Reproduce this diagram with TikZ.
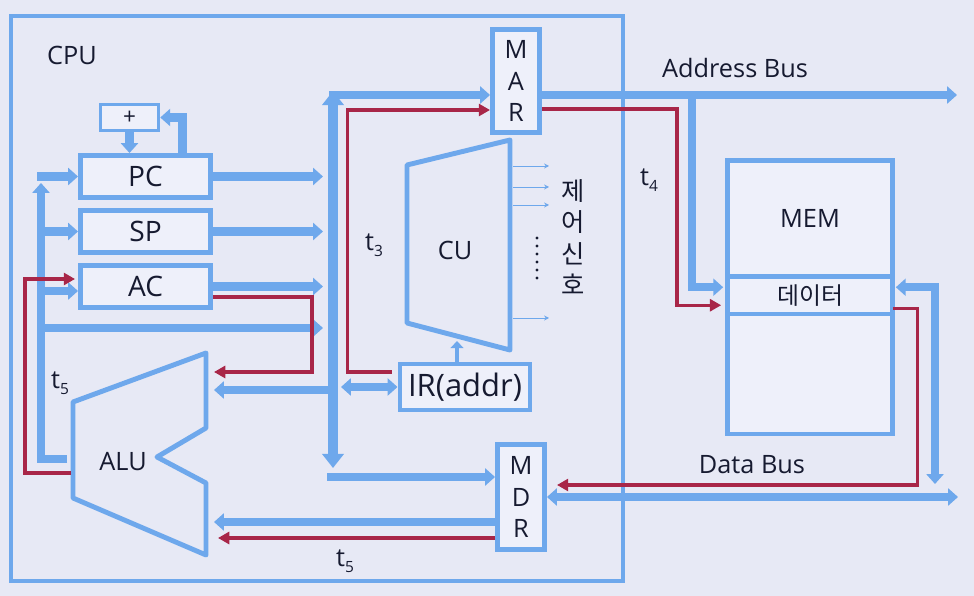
\documentclass[tikz,border=0pt]{standalone}
\usepackage{fontspec}
\setmainfont{Open Sans}
\newfontfamily\korfont{Noto Sans CJK KR}
\usepackage{tikz}
\usetikzlibrary{arrows.meta, calc}
\usepackage{xcolor}
\definecolor{busblue}{RGB}{110, 168, 236}
\definecolor{signalred}{RGB}{168, 38, 72}
\definecolor{slidebg}{RGB}{231, 233, 245}
\definecolor{boxfill}{RGB}{238, 240, 250}
\definecolor{inkdark}{RGB}{22, 26, 48}
\newcommand{\tstep}[1]{t\raisebox{-0.45ex}{\fontsize{11}{11}\selectfont #1}}

\begin{document}
\begin{tikzpicture}[x=0.025cm, y=-0.025cm,
    cpuframe/.style={rectangle, draw=busblue, line width=2.8pt, minimum width=15.3cm, minimum height=14.125cm},
    register/.style={rectangle, draw=busblue, fill=boxfill, line width=3.5pt, minimum width=3.25cm, minimum height=1.05cm, text=inkdark, font=\fontsize{20}{24}\selectfont},
    vreg/.style={rectangle, draw=busblue, fill=boxfill, line width=3.5pt, minimum width=1.175cm, align=center, text=inkdark, font=\fontsize{18}{22.5}\selectfont},
    memcell/.style={rectangle, draw=busblue, fill=boxfill, line width=3.5pt, minimum width=4.14cm, outer sep=0pt, text=inkdark, font=\fontsize{18}{22}\selectfont},
    unit/.style={draw=busblue, line width=3.5pt, line join=round},
    tag/.style={text=inkdark, font=\fontsize{18}{22}\selectfont},
    bus/.style={draw=busblue, line width=5.7pt, >={Triangle[length=7pt, width=12pt]}},
    mainbus/.style={draw=busblue, line width=7pt, >={Triangle[length=10pt, width=15pt]}},
    tline/.style={draw=signalred, line width=2.2pt, >={Triangle[length=8pt, width=8.5pt]}},
    ctrl/.style={draw=busblue, line width=0.6pt, >={Stealth[length=3.5pt, width=3.5pt]}}
]
    % slide background
    \fill[slidebg] (0,0) rectangle (974,596);
    \useasboundingbox (0,0) rectangle (974,596);

    % CPU frame
    \node[cpuframe] (cpu) at (317,298.5) {};
    \node[tag] (cpulabel) at (72,55) {CPU};

    % registers
    \node[register, minimum width=1.45cm, minimum height=0.65cm, line width=2.5pt, font=\fontsize{16}{18}\selectfont] (inc) at (129.5,117.5) {+};
    \node[register] (pc) at (145.5,176.5) {PC};
    \node[register] (sp) at (145.5,231.5) {SP};
    \node[register] (ac) at (145.5,286.5) {AC};
    \node[vreg, minimum height=2.575cm] (mar) at (516,81) {M\\A\\R};
    \node[vreg, minimum height=2.625cm] (mdr) at (521,497) {M\\D\\R};
    \node[register, minimum height=1.15cm, font=\fontsize{22}{26}\selectfont] (ir) at (465,387) {IR(addr)};

    % ALU and CU
    \draw[unit] (206,353) -- (206,428) -- (157,457) -- (206,483) -- (206,555) -- (73,498) -- (73,402) -- cycle;
    \node[tag] (alu) at (123,462) {ALU};
    \draw[unit] (407,165) -- (510,140) -- (510,350) -- (407,323) -- cycle;
    \node[tag] (cu) at (455,250) {CU};

    % memory
    \node[memcell, minimum height=2.9cm] (mem) at (810,218.5) {MEM};
    \node[memcell, minimum height=0.9375cm, font=\korfont\fontsize{17}{20}\selectfont] (data) at (810,295.25) {데이터};
    \node[memcell, minimum height=3cm] (memlow) at (810,374) {};

    % bus points
    \coordinate (lb-top) at (41,183);
    \coordinate (lb-bot) at (41,459);
    \coordinate (alu-res) at (67,459);
    \coordinate (lb-pc) at (37,0);
    \coordinate (lb-ac) at (41,291);
    \coordinate (lb-mb) at (41,328);
    \coordinate (mb-in) at (323,0);
    \coordinate (mb-out) at (341,0);
    \coordinate (mb-tip) at (333,91);
    \coordinate (mb-end) at (333,468);
    \coordinate (mb-mar) at (329,95);
    \coordinate (mb-mdr) at (327,477);
    \coordinate (alu-in) at (214,390);
    \coordinate (alu-t1) at (214,372);
    \coordinate (alu-mdr) at (214,522);
    \coordinate (alu-t5) at (218,538);
    \coordinate (alu-left) at (71,473);
    \coordinate (cu-in) at (457,341);
    \coordinate (cu-out) at (513,0);
    \coordinate (sig-end) at (549,0);
    \coordinate (ab-end) at (957,95);
    \coordinate (ab-tap) at (692,95);
    \coordinate (db-tap) at (935,484);
    \coordinate (db-end) at (958,0);

    % ALU result back to registers
    \draw[bus,->] (alu-res) -- (lb-bot) -- (lb-top);
    \draw[bus,->] (lb-pc |- pc.west) -- (pc.west);
    \draw[bus,->] (lb-top |- sp.west) -- (sp.west);
    \draw[bus,->] (lb-ac) -- (lb-ac -| ac.west);
    \draw[bus,->] (lb-mb) -- (lb-mb -| mb-in);
    \draw[bus,->] (inc.south) -- (inc.south |- pc.north);
    \draw[bus,->] ($(pc.north)+(37,0)$) |- (inc.east);

    % registers to internal bus
    \foreach \r in {pc,sp,ac}
        \draw[bus,->] (\r.east) -- (\r.east -| mb-in);

    % internal bus
    \draw[mainbus,<->] (mb-end) -- (mb-tip);
    \draw[bus,->] (mb-mar) -- (mb-mar -| mar.west);
    \draw[bus,->] (mb-mdr) -- (mb-mdr -| mdr.west);
    \draw[bus,->] (alu-in -| mb-tip) -- (alu-in);
    \draw[bus,<->] (ir.west -| mb-out) -- (ir.west);
    \draw[bus,->] (alu-mdr -| mdr.west) -- (alu-mdr);
    \draw[bus, line width=3.5pt, >={Triangle[length=5pt, width=9pt]}, ->] (ir.north -| cu-in) -- (cu-in);

    % control signals
    \foreach \y in {166,187,205,318}
        \draw[ctrl,->] (cu-out |- 0,\y) -- (sig-end |- 0,\y);
    \foreach \y in {238,246,...,278}
        \fill[inkdark] (537,\y) circle (1.1pt);
    \node[tag, align=center, font=\korfont\fontsize{18}{22.5}\selectfont] (ctrlsig) at (573,237) {제\\어\\신\\호};

    % address and data bus
    \draw[bus,->] ($(mar.east)+(0,14)$) -- (ab-end);
    \draw[bus,->] (ab-tap) |- ($(data.west)+(-4,-8)$);
    \draw[bus,<->] ($(data.east)+(3,-8)$) -| (db-tap);
    \draw[bus,<->] (mdr.east) -- (mdr.east -| db-end);

    % timing paths
    \draw[tline,->] ($(ac.east)+(0,10.5)$) -- ++(99,0) |- (alu-t1);
    \draw[tline,->] (alu-left) -- ++(-46,0) |- ($(ac.west)+(-3,-7.5)$);
    \draw[tline,->] ($(ir.west)+(-6,-15)$) -- ++(-44,0) |- ($(mar.west)+(0,29)$);
    \draw[tline,->] ($(mar.east)+(0,28)$) -- ++(135,0) |- ($(data.west)+(-6,10)$);
    \draw[tline,->] ($(data.east)+(0,13)$) -- ++(25,0) |- ($(mdr.east)+(10,-12)$);
    \draw[tline,->] (alu-t5 -| mdr.west) -- (alu-t5);

    % labels
    \node[tag] (t3) at (374,245) {\tstep{3}};
    \node[tag] (t4) at (649,180) {\tstep{4}};
    \node[tag] (t5a) at (60,383) {\tstep{5}};
    \node[tag] (t5b) at (345,561) {\tstep{5}};
    \node[tag] (abus) at (735,68) {Address Bus};
    \node[tag] (dbus) at (752,465) {Data Bus};
\end{tikzpicture}
\end{document}
